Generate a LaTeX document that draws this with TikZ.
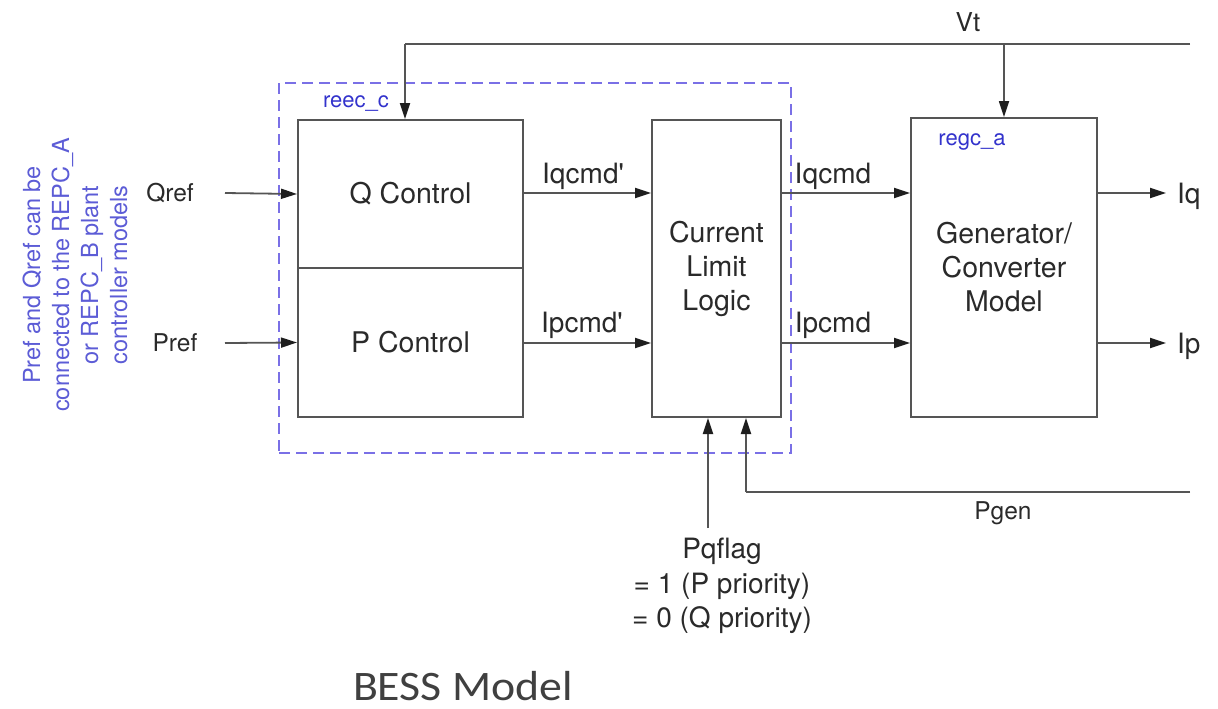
\documentclass[tikz,border=0pt]{standalone}
\usepackage{fontspec}
\setmainfont{TeX Gyre Heros}
\newfontfamily\calib{Carlito}
\usetikzlibrary{arrows.meta}
\definecolor{ln}{HTML}{555555}
\definecolor{tip}{HTML}{1E1E1E}
\definecolor{tx}{HTML}{2A2A2A}
\definecolor{bl}{HTML}{3333CC}
\definecolor{dsh}{HTML}{7A70E6}
\begin{document}
\begin{tikzpicture}[x=1pt,y=-1pt,
  blk/.style={draw=ln, line width=2pt, fill=white, inner sep=0pt, text=tx, align=center,
              font=\fontsize{28.5}{34}\selectfont},
  sig/.style={draw=ln, line width=1.8pt, -{Triangle[length=16pt,width=10pt,color=tip]}},
  wire/.style={draw=ln, line width=1.8pt},
  lbl/.style={text=tx, inner sep=0pt, font=\fontsize{28}{34.5}\selectfont},
  slbl/.style={text=tx, inner sep=0pt, font=\fontsize{24.5}{30}\selectfont},
  blu/.style={text=bl, inner sep=0pt, font=\fontsize{22}{26}\selectfont},
  note/.style={text=bl!80!white, inner sep=0pt, align=center, font=\fontsize{23.5}{29}\selectfont},
  dbox/.style={draw=dsh, line width=1.6pt, dash pattern=on 11pt off 6pt, inner sep=0pt}
]
\useasboundingbox (0,0) rectangle (1218,709);
% dashed container
\node[dbox, minimum width=512pt, minimum height=370pt] (reec) at (535,268) {};
% blocks
\node[blk, minimum width=225pt, minimum height=148pt] (qc) at (410.5,194) {Q Control};
\node[blk, minimum width=225pt, minimum height=149pt] (pc) at (410.5,342.5) {P Control};
\node[blk, minimum width=129pt, minimum height=297pt] (cl) at (716.5,268.5) {Current\\Limit\\Logic};
\node[blk, minimum width=186pt, minimum height=299pt] (gc) at (1004,267.5) {Generator/\\Converter\\Model};
% blue labels
\node[blu] (reeclbl) at (356,104) {reec\_c};
\node[blu] (regclbl) at (972,142) {regc\_a};
% left note
\node[note, rotate=90] (note) at (75,275) {Pref and Qref can be\\connected to the REPC\_A\\or REPC\_B plant\\controller models};
% inputs
\node[slbl] (qref) at (170,193) {Qref};
\node[slbl] (pref) at (175,343) {Pref};
\coordinate (qin) at (225,193);
\coordinate (pin) at (225,343);
\draw[sig] (qin) -- (qc.west);
\draw[sig] (pin) -- (pc.west);
% internal signals
\draw[sig] (qc.east |- 0,193) -- (cl.west |- 0,193);
\draw[sig] (pc.east |- 0,343) -- (cl.west |- 0,343);
\draw[sig] (cl.east |- 0,193) -- (gc.west |- 0,193);
\draw[sig] (cl.east |- 0,343) -- (gc.west |- 0,343);
\node[lbl] (iqp) at (583,176) {Iqcmd\textquotesingle};
\node[lbl] (ipp) at (582,325) {Ipcmd\textquotesingle};
\node[lbl] (iq) at (833,176) {Iqcmd};
\node[lbl] (ip) at (833,325) {Ipcmd};
% outputs
\coordinate (iqo) at (1166,193);
\coordinate (ipo) at (1166,343);
\draw[sig] (gc.east |- iqo) -- (iqo);
\draw[sig] (gc.east |- ipo) -- (ipo);
\node[lbl, anchor=west] (iqlbl) at (1177,196) {Iq};
\node[lbl, anchor=west] (iplbl) at (1177,346) {Ip};
% Vt
\coordinate (vtend) at (1190,44);
\coordinate (vtq) at (405,44);
\coordinate (vtg) at (1004,44);
\draw[wire] (vtend) -- (vtq);
\draw[sig] (vtq) -- (vtq |- qc.north);
\draw[sig] (vtg) -- (gc.north);
\node[slbl, font=\fontsize{26}{30}\selectfont] (vt) at (968,22) {Vt};
% Pgen
\coordinate (pgend) at (1190,492);
\coordinate (pgc) at (746,492);
\draw[wire] (pgend) -- (pgc);
\draw[sig] (pgc) -- (pgc |- cl.south);
\node[slbl] (pgen) at (1003,513) {Pgen};
% Pqflag
\coordinate (pqf) at (708,528);
\draw[sig] (pqf) -- (pqf |- cl.south);
\node[lbl, align=center, anchor=north] (pq) at (722,538) {Pqflag\\= 1 (P priority)\\= 0 (Q priority)};
% title
\node[text=black!75, inner sep=0pt, font=\calib\fontsize{42}{48}\selectfont] (title) at (463,686) {\scalebox{1.09}[1]{BESS Model}};
\end{tikzpicture}
\end{document}
